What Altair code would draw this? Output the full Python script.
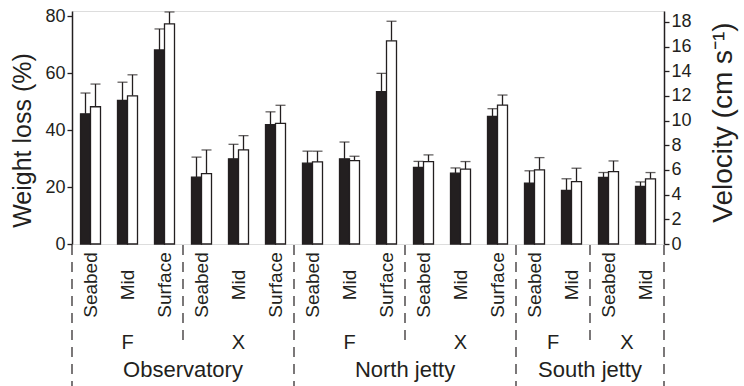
import altair as alt
import pandas as pd

# ---------------- data ----------------
locations = ["Observatory"] * 6 + ["North jetty"] * 6 + ["South jetty"] * 4
sites = ["F", "F", "F", "X", "X", "X", "F", "F", "F", "X", "X", "X", "F", "F", "X", "X"]
levels = ["Seabed", "Mid", "Surface"] * 4 + ["Seabed", "Mid"] * 2

weight_loss = [45.7, 50.4, 68.1, 23.5, 29.9, 41.9, 28.4, 29.9, 53.5, 26.9, 24.9, 44.8, 21.4, 18.8, 23.4, 20.2]
weight_loss_se = [7.3, 6.4, 7.4, 7.0, 5.1, 4.5, 4.2, 5.9, 6.4, 2.1, 1.8, 2.7, 4.3, 4.1, 1.7, 1.6]
velocity = [11.12, 12.01, 17.83, 5.71, 7.62, 9.77, 6.65, 6.76, 16.46, 6.68, 6.06, 11.26, 6.01, 5.06, 5.87, 5.28]
velocity_se = [1.84, 1.70, 0.97, 1.91, 1.16, 1.47, 0.87, 0.35, 1.59, 0.54, 0.62, 0.81, 0.99, 1.08, 0.86, 0.51]

wl_ticks = [0, 20, 40, 60, 80]
v_ticks = [0, 2, 4, 6, 8, 10, 12, 14, 16, 18]
WL_MAX = 81.8
V_MAX = 18.88

df = pd.DataFrame({
    "location": locations,
    "site": sites,
    "level": levels,
    "weight_loss": weight_loss,
    "weight_loss_se": weight_loss_se,
    "velocity": velocity,
    "velocity_se": velocity_se,
})
df["gid"] = range(len(df))
df["wl_hi"] = df["weight_loss"] + df["weight_loss_se"]
df["v_hi"] = df["velocity"] + df["velocity_se"]

n = len(df)
loc_bounds = sorted(set(df.groupby("location")["gid"].min().tolist()) | {n})
site_bounds = sorted(set(df.groupby(["location", "site"])["gid"].min().tolist()) - set(loc_bounds))
loc_df = pd.DataFrame({"pos": loc_bounds})
site_df = pd.DataFrame({"pos": site_bounds})

INK = "#231f20"
FONT = "Liberation Sans"
SW = 1.3

x_band = alt.X("gid:O", axis=None, scale=alt.Scale(paddingInner=0, paddingOuter=0))
x_off = alt.XOffset("series:N", scale=alt.Scale(domain=["Weight loss", "Velocity"],
                                                paddingInner=0, paddingOuter=0.85))

axis_common = dict(labelFont=FONT, labelFontSize=18, labelColor=INK, tickColor=INK,
                   domainColor=INK, domainWidth=1.5, tickWidth=1.3, tickSize=5,
                   labelPadding=2, labelOverlap=False, grid=False,
                   titleFont=FONT, titleFontWeight="normal",
                   titleColor=INK, titleAngle=270, titleAlign="center",
                   titleBaseline="middle")

wl_axis = alt.Axis(orient="left", values=wl_ticks, title="Weight loss (%)",
                   titleX=-50, titleY=129, titleFontSize=25, **axis_common)
v_axis = alt.Axis(orient="right", values=v_ticks, title="Velocity (cm s⁻¹)",
                  titleX=59, titleY=111, titleFontSize=28, **axis_common)

wl_scale = alt.Scale(domain=[0, WL_MAX], nice=False, zero=True)
v_scale = alt.Scale(domain=[0, V_MAX], nice=False, zero=True)

base_w = alt.Chart(df).transform_calculate(series="'Weight loss'")
bars_w = base_w.mark_bar(fill=INK, stroke=INK, strokeWidth=SW).encode(
    x=x_band, xOffset=x_off,
    y=alt.Y("weight_loss:Q", scale=wl_scale, axis=wl_axis))
rule_w = base_w.mark_rule(color=INK, strokeWidth=SW).encode(
    x=x_band, xOffset=x_off,
    y=alt.Y("weight_loss:Q", scale=wl_scale, axis=wl_axis), y2="wl_hi:Q")
cap_w = base_w.mark_tick(color=INK, thickness=SW, size=10, orient="horizontal").encode(
    x=x_band, xOffset=x_off,
    y=alt.Y("wl_hi:Q", scale=wl_scale, axis=wl_axis))
left = alt.layer(rule_w, cap_w, bars_w)

base_v = alt.Chart(df).transform_calculate(series="'Velocity'")
bars_v = base_v.mark_bar(fill="white", stroke=INK, strokeWidth=SW).encode(
    x=x_band, xOffset=x_off,
    y=alt.Y("velocity:Q", scale=v_scale, axis=v_axis))
rule_v = base_v.mark_rule(color=INK, strokeWidth=SW).encode(
    x=x_band, xOffset=x_off,
    y=alt.Y("velocity:Q", scale=v_scale, axis=v_axis), y2="v_hi:Q")
cap_v = base_v.mark_tick(color=INK, thickness=SW, size=10, orient="horizontal").encode(
    x=x_band, xOffset=x_off,
    y=alt.Y("v_hi:Q", scale=v_scale, axis=v_axis))
right = alt.layer(rule_v, cap_v, bars_v)

# ---------------- category annotations below the plot ----------------
xq = alt.X("pos:Q", axis=None, scale=alt.Scale(domain=[0, n], nice=False, zero=False))

lab_base = alt.Chart(df).transform_calculate(pos="datum.gid + 0.5")
level_text = lab_base.mark_text(angle=270, align="center", baseline="middle",
                                fontSize=19, font=FONT, color=INK).encode(
    x=xq, y=alt.value(274), text="level:N")
site_text = lab_base.transform_aggregate(pos="mean(pos)", groupby=["location", "site"]).mark_text(
    align="center", baseline="alphabetic", fontSize=20, font=FONT, color=INK).encode(
    x=xq, y=alt.value(338), text="site:N")
loc_text = lab_base.transform_aggregate(pos="mean(pos)", groupby=["location"]).mark_text(
    align="center", baseline="alphabetic", fontSize=22, font=FONT, color=INK).encode(
    x=xq, y=alt.value(366), text="location:N")

loc_rule = alt.Chart(loc_df).mark_rule(color=INK, strokeWidth=1.2, strokeDash=[10, 7]).encode(
    x=xq, y=alt.value(234), y2=alt.value(375))
site_rule = alt.Chart(site_df).mark_rule(color=INK, strokeWidth=1.2, strokeDash=[10, 7]).encode(
    x=xq, y=alt.value(234), y2=alt.value(332))

annot = alt.layer(level_text, site_text, loc_text, loc_rule, site_rule)

chart = alt.layer(left, right, annot).resolve_scale(
    y="independent", x="independent"
).properties(
    width=592, height=233,
    autosize=alt.AutoSizeParams(type="none"),
    padding={"left": 72, "top": 11, "right": 80, "bottom": 142},
).configure_view(stroke=INK, strokeWidth=1.5).configure(background="white")

chart.save("out.html", embed_options={"renderer": "svg", "actions": False})
